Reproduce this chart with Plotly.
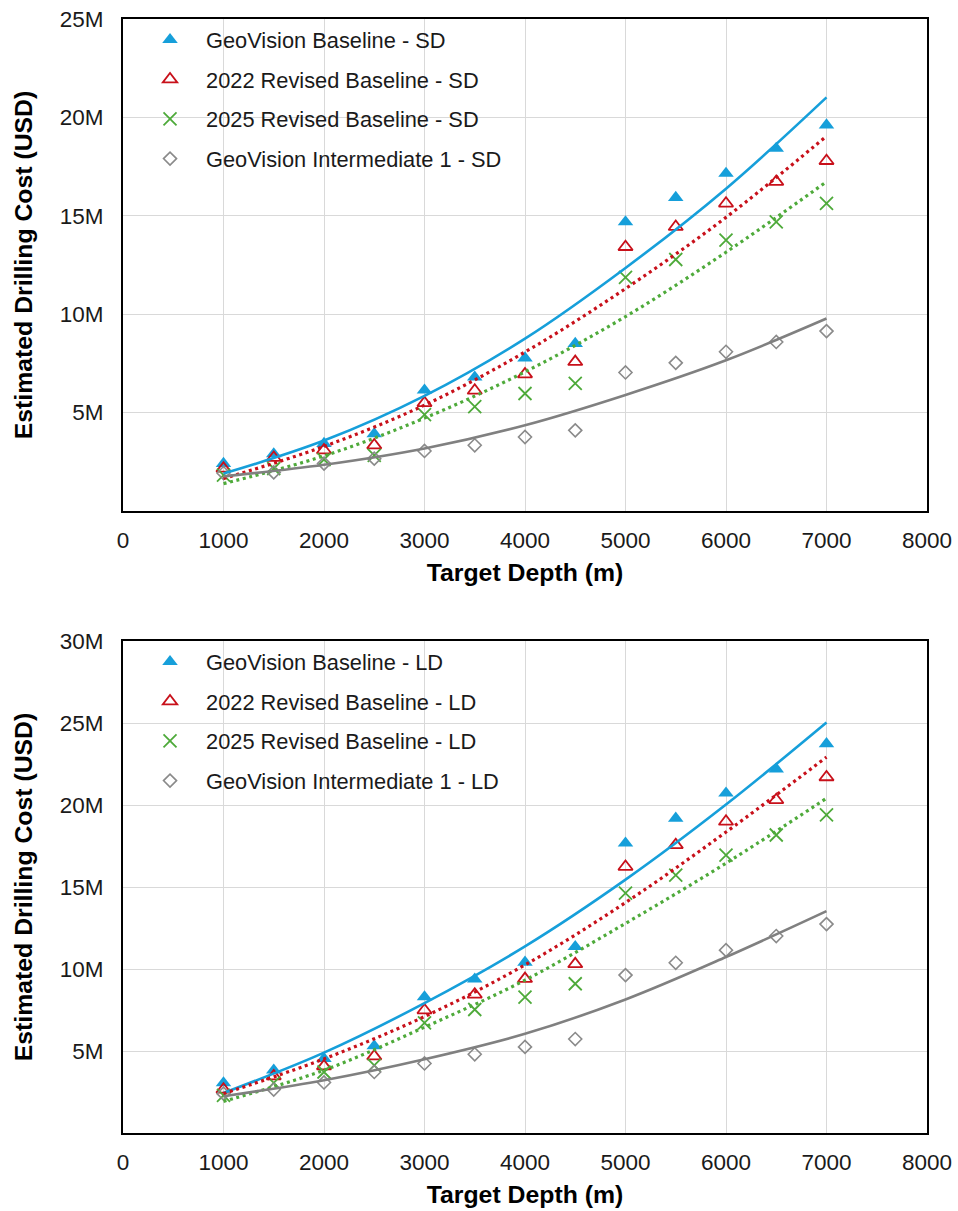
import plotly.graph_objects as go

# ---------------- data (values in million USD) ----------------
depth = [1000, 1500, 2000, 2500, 3000, 3500, 4000, 4500, 5000, 5500, 6000, 6500, 7000]
trend_depth = [1000, 2000, 3000, 4000, 5000, 6000, 7000]

# Short-diameter (SD) wells
gv_base_sd = [2.41, 2.90, 3.43, 3.92, 6.14, 6.80, 7.77, 8.51, 14.69, 15.93, 17.15, 18.42, 19.61]
rev22_sd = [2.16, 2.71, 3.09, 3.34, 5.49, 6.12, 6.95, 7.58, 13.42, 14.44, 15.63, 16.73, 17.79]
rev25_sd = [1.82, 2.16, 2.61, 2.83, 4.90, 5.30, 5.97, 6.48, 11.87, 12.78, 13.76, 14.69, 15.63]
gv_int1_sd = [1.93, 1.96, 2.41, 2.66, 3.05, 3.34, 3.76, 4.10, 7.04, 7.53, 8.09, 8.59, 9.14]

# Trendlines (SD), read at trend_depth
tr_gv_base_sd = [1.90, 3.58, 5.85, 8.76, 12.35, 16.38, 21.02]
tr_rev22_sd = [1.65, 3.28, 5.38, 8.08, 11.30, 14.92, 19.05]
tr_rev25_sd = [1.39, 2.80, 4.72, 7.07, 9.88, 13.15, 16.73]
tr_gv_int1_sd = [1.76, 2.35, 3.18, 4.36, 5.90, 7.66, 9.78]

# Large-diameter (LD) wells
gv_base_ld = [3.05, 3.83, 4.54, 5.31, 8.30, 9.38, 10.41, 11.36, 17.67, 19.19, 20.72, 22.19, 23.73]
rev22_ld = [2.65, 3.46, 4.07, 4.68, 7.49, 8.45, 9.40, 10.30, 16.24, 17.56, 18.99, 20.31, 21.70]
rev25_ld = [2.30, 3.05, 3.72, 4.13, 6.72, 7.53, 8.28, 9.10, 14.62, 15.73, 16.95, 18.17, 19.40]
gv_int1_ld = [2.40, 2.65, 3.08, 3.72, 4.24, 4.80, 5.25, 5.73, 9.63, 10.38, 11.15, 12.01, 12.74]

# Trendlines (LD), read at trend_depth
tr_gv_base_ld = [2.44, 4.90, 7.92, 11.38, 15.45, 20.03, 25.03]
tr_rev22_ld = [2.40, 4.52, 7.10, 10.25, 14.05, 18.35, 22.92]
tr_rev25_ld = [1.93, 3.83, 6.45, 9.32, 12.78, 16.45, 20.41]
tr_gv_int1_ld = [2.24, 3.22, 4.50, 6.05, 8.14, 10.73, 13.53]

series_names = ["GeoVision Baseline", "2022 Revised Baseline",
                "2025 Revised Baseline", "GeoVision Intermediate 1"]

x_ticks = [0, 1000, 2000, 3000, 4000, 5000, 6000, 7000, 8000]
y_ticks_sd = [5, 10, 15, 20, 25]
y_ticks_ld = [5, 10, 15, 20, 25, 30]
y_ticktext_sd = [f"{v}M" for v in y_ticks_sd]
y_ticktext_ld = [f"{v}M" for v in y_ticks_ld]

x_title = "Target Depth (m)"
y_title = "Estimated Drilling Cost (USD)"

# ---------------- styles ----------------
BLUE = "#169FDA"
RED = "#C8101A"
GREEN = "#4EAA3A"
GRAY = "#8A8A8A"
GRAY_LINE = "#808080"
FONT = "Liberation Sans, Arial, sans-serif"

marker_styles = [
    dict(symbol="triangle-up", size=13.5, color=BLUE),
    dict(symbol="triangle-up-open", size=12.5, color=RED, line=dict(width=1.8, color=RED)),
    dict(symbol="x-thin-open", size=13, color=GREEN, line=dict(width=1.8, color=GREEN)),
    dict(symbol="diamond-open", size=10, color=GRAY, line=dict(width=1.6, color=GRAY)),
]
line_styles = [
    dict(color=BLUE, width=2.6, dash="solid"),
    dict(color=RED, width=3.2, dash="3px,3.6px"),
    dict(color=GREEN, width=3.2, dash="3px,3.6px"),
    dict(color=GRAY_LINE, width=2.6, dash="solid"),
]

fig = go.Figure()

panels = [
    ("SD", "x", "y", "legend",
     [gv_base_sd, rev22_sd, rev25_sd, gv_int1_sd],
     [tr_gv_base_sd, tr_rev22_sd, tr_rev25_sd, tr_gv_int1_sd]),
    ("LD", "x2", "y2", "legend2",
     [gv_base_ld, rev22_ld, rev25_ld, gv_int1_ld],
     [tr_gv_base_ld, tr_rev22_ld, tr_rev25_ld, tr_gv_int1_ld]),
]

for tag, xa, ya, leg, pts, trends in panels:
    for i, (name, vals) in enumerate(zip(series_names, pts)):
        fig.add_trace(go.Scatter(
            x=depth, y=vals, mode="markers", name=f"{name} - {tag}",
            marker=marker_styles[i], xaxis=xa, yaxis=ya, legend=leg,
            legendgroup=f"{tag}{i}",
        ))
    for i, (name, vals) in enumerate(zip(series_names, trends)):
        fig.add_trace(go.Scatter(
            x=trend_depth, y=vals, mode="lines", line=line_styles[i],
            line_shape="spline", xaxis=xa, yaxis=ya, showlegend=False,
            name=f"Trend {name} - {tag}", hoverinfo="skip",
        ))

W, H = 958, 1211
PLOT_L, PLOT_R, PLOT_T, PLOT_B = 123, 927, 19, 1133
ML, MT = PLOT_L, PLOT_T
MR, MB = W - PLOT_R, H - PLOT_B
plot_h = PLOT_B - PLOT_T
top_dom = [(PLOT_B - 511) / plot_h, 1.0]
bot_dom = [0.0, (PLOT_B - 641) / plot_h]

tick_font = dict(family=FONT, size=22.5, color="#1a1a1a")
title_font = dict(family=FONT, size=24.8, color="#000000")

common_axis = dict(
    showline=True, mirror=True, linecolor="#000000", linewidth=2,
    showgrid=True, gridcolor="#D9D9D9", gridwidth=1.4,
    zeroline=False, ticks="", tickfont=tick_font, ticklabeloverflow="allow",
)

def xaxis(anchor):
    return dict(common_axis, range=[0, 8000], tickvals=x_ticks,
                ticklabelstandoff=8, anchor=anchor, domain=[0, 1],
                title=dict(text=f"<b>{x_title}</b>", font=title_font, standoff=12))

def yaxis(anchor, dom, top, ticks, texts):
    return dict(common_axis, range=[0, top], tickvals=ticks, ticktext=texts,
                ticklabelstandoff=13, anchor=anchor, domain=dom,
                title=dict(text=f"<b>{y_title}</b>", font=title_font, standoff=20))

legend_common = dict(
    font=dict(family=FONT, size=21.8, color="#1a1a1a"),
    bgcolor="rgba(0,0,0,0)", borderwidth=0, itemwidth=62,
    tracegroupgap=8.3, xanchor="left", yanchor="top", x=0.0137,
)

fig.update_layout(
    width=W, height=H,
    margin=dict(l=ML, r=MR, t=MT, b=MB, autoexpand=False),
    paper_bgcolor="white", plot_bgcolor="white",
    font=dict(family=FONT),
    showlegend=True,
    xaxis=xaxis("y"),
    yaxis=yaxis("x", top_dom, 25, y_ticks_sd, y_ticktext_sd),
    xaxis2=xaxis("y2"),
    yaxis2=yaxis("x2", bot_dom, 30, y_ticks_ld, y_ticktext_ld),
    legend=dict(legend_common, y=1.0),
    legend2=dict(legend_common, y=bot_dom[1]),
)

fig.write_html(
    "out.html",
    config={"displayModeBar": False},
    post_script="document.body.style.margin='0';document.body.style.overflow='hidden';",
)
